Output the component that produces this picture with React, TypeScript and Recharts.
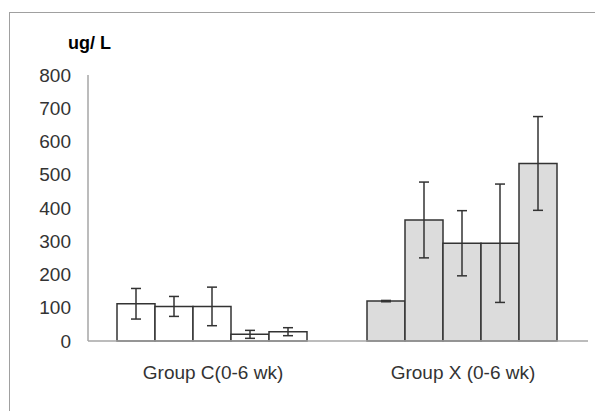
import React from "react";
import { BarChart, Bar, XAxis, YAxis, ErrorBar, Cell } from "recharts";

const categories = ["Group C(0-6 wk)", "Group X (0-6 wk)"];
const week1 = [112, 120];
const week1Err = [46, 2];
const week2 = [104, 364];
const week2Err = [30, 114];
const week3 = [104, 294];
const week3Err = [58, 98];
const week4 = [20, 294];
const week4Err = [12, 178];
const week5 = [28, 534];
const week5Err = [12, 141];
const yTicks = [0, 100, 200, 300, 400, 500, 600, 700, 800];
const groupFills = ["#ffffff", "#dcdcdc"];

const seriesValues = [week1, week2, week3, week4, week5];
const seriesErrors = [week1Err, week2Err, week3Err, week4Err, week5Err];

const data = categories.map((name, i) => {
  const row: Record<string, string | number> = { name };
  seriesValues.forEach((vals, s) => {
    row[`v${s}`] = vals[i];
    row[`e${s}`] = seriesErrors[s][i];
  });
  return row;
});

const font = "'Liberation Sans', Arial, sans-serif";

export default function App() {
  return (
    <div style={{ position: "absolute", left: 0, top: 0, width: 595, height: 411, overflow: "hidden", background: "#fff" }}>
      <div
        style={{
          position: "absolute",
          left: 9,
          top: 12,
          width: 590,
          height: 405,
          borderLeft: "1.5px solid #a0a0a0",
          borderTop: "1.5px solid #a0a0a0",
        }}
      />
      <div
        style={{
          position: "absolute",
          left: 68,
          top: 33,
          fontFamily: font,
          fontWeight: "bold",
          fontSize: 18,
          color: "#000",
          lineHeight: "20px",
          whiteSpace: "pre",
        }}
      >
        ug/ L
      </div>
      <div style={{ position: "absolute", left: 0, top: 0 }}>
        <BarChart
          width={595}
          height={411}
          data={data}
          margin={{ top: 75, right: 7, left: 0, bottom: 40 }}
          barCategoryGap="11.6%"
          barGap={0}
        >
          <XAxis
            dataKey="name"
            height={30}
            tickLine={false}
            tickMargin={19}
            axisLine={{ stroke: "#a6a6a6", strokeWidth: 1.5 }}
            tick={{ fill: "#333", fontSize: 19, fontFamily: font }}
            interval={0}
          />
          <YAxis
            width={88}
            domain={[0, 800]}
            ticks={yTicks}
            tickLine={false}
            tickMargin={11}
            axisLine={{ stroke: "#a6a6a6", strokeWidth: 1.5 }}
            tick={{ fill: "#333", fontSize: 19, fontFamily: font }}
            interval={0}
          />
          {seriesValues.map((_, s) => (
            <Bar key={s} dataKey={`v${s}`} stroke="#333" strokeWidth={1.5} isAnimationActive={false}>
              {data.map((_, i) => (
                <Cell key={i} fill={groupFills[i]} />
              ))}
              <ErrorBar dataKey={`e${s}`} width={5} stroke="#333" strokeWidth={1.5} direction="y" />
            </Bar>
          ))}
        </BarChart>
      </div>
    </div>
  );
}
